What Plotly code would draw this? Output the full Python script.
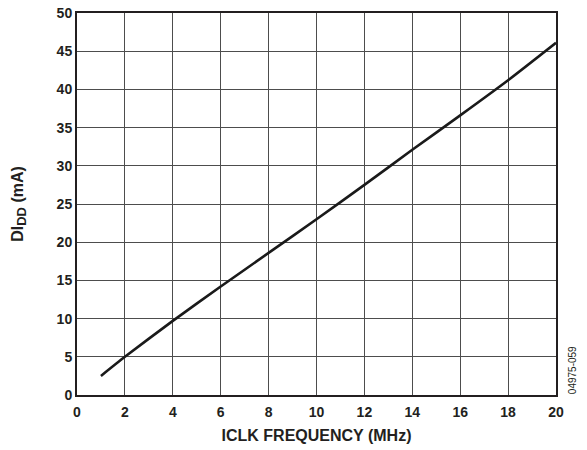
import plotly.graph_objects as go

freq_mhz = [1, 2, 4, 6, 8, 10, 12, 14, 16, 18, 20]
didd_ma = [2.5, 5.0, 9.7, 14.2, 18.6, 23.0, 27.5, 32.1, 36.6, 41.2, 46.1]
x_ticks = [0, 2, 4, 6, 8, 10, 12, 14, 16, 18, 20]
y_ticks = [0, 5, 10, 15, 20, 25, 30, 35, 40, 45, 50]

font_family = "Liberation Sans, Arial, sans-serif"

fig = go.Figure()
fig.add_trace(go.Scatter(x=freq_mhz, y=didd_ma, mode="lines",
                         line=dict(color="#1a1a1a", width=2.6, shape="spline", smoothing=0.6),
                         showlegend=False))

fig.update_layout(
    width=587, height=450,
    margin=dict(l=77, r=31, t=13, b=55, autoexpand=False),
    paper_bgcolor="white", plot_bgcolor="white",
    font=dict(family=font_family, color="#231f20", size=14),
)
fig.update_xaxes(
    range=[0, 20], tickvals=x_ticks, ticktext=[f"<b>{v}</b>" for v in x_ticks],
    showgrid=True, gridcolor="#4d4d4d", gridwidth=1.2,
    showline=True, linecolor="#231f20", linewidth=2, mirror=True,
    ticks="", ticklen=0, zeroline=False, automargin=False,
    ticklabelstandoff=3,
    title=dict(text="<b>ICLK FREQUENCY (MHz)</b>", font=dict(size=16), standoff=11),
    tickfont=dict(size=14),
)
fig.update_yaxes(
    range=[0, 50], tickvals=y_ticks, ticktext=[f"<b>{v}</b>" for v in y_ticks],
    showgrid=True, gridcolor="#4d4d4d", gridwidth=1.2,
    showline=True, linecolor="#231f20", linewidth=2, mirror=True,
    ticks="", ticklen=0, zeroline=False, automargin=False,
    title=dict(text="<b>DI<sub><span style='font-size:13px'>DD</span></sub> (mA)</b>",
               font=dict(size=16), standoff=29),
    tickfont=dict(size=14),
)
fig.add_annotation(
    text="04975-059", xref="paper", yref="paper", x=1.0, y=0.065,
    xshift=16, textangle=-90, showarrow=False,
    xanchor="center", yanchor="middle",
    font=dict(size=10, family=font_family, color="#231f20"),
)

fig.write_html(
    "out.html",
    config={"displayModeBar": False},
    post_script="document.body.style.margin='0';document.body.style.padding='0';",
)
